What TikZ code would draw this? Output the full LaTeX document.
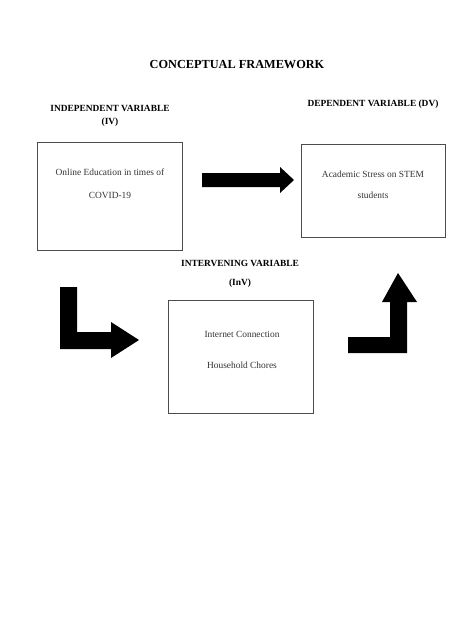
\documentclass[tikz,border=0pt]{standalone}
\usepackage{fontspec}
\setmainfont{Liberation Serif}
\begin{document}
\begin{tikzpicture}[x=1pt,y=-1pt,
  box/.style={draw=black!70,line width=0.8pt},
  hdr/.style={font=\bfseries\fontsize{9.4}{11}\selectfont,inner sep=0pt,anchor=center},
  txt/.style={font=\fontsize{9.4}{11}\selectfont,text=black!80,inner sep=0pt,anchor=center},
  blk/.style={fill=black,draw=none}]
\useasboundingbox[fill=white] (0,0) rectangle (474,632);
% title and headings
\node[hdr,font=\bfseries\fontsize{12.3}{14}\selectfont] (title) at (237,65) {CONCEPTUAL FRAMEWORK};
\node[hdr] (ivh) at (110,108) {INDEPENDENT VARIABLE};
\node[hdr] (ivh2) at (110,122) {(IV)};
\node[hdr] (dvh) at (373,104) {DEPENDENT VARIABLE (DV)};
\node[hdr] (invh) at (240,263) {INTERVENING VARIABLE};
\node[hdr] (invh2) at (240,283) {(InV)};
% boxes
\draw[box] (37,142) rectangle (182,250);
\node[txt] (iv1) at (110,172) {Online Education in times of};
\node[txt] (iv2) at (110,195) {COVID-19};
\draw[box] (301,144) rectangle (445,237);
\node[txt] (dv1) at (373,174) {Academic Stress on STEM};
\node[txt] (dv2) at (373,195) {students};
\draw[box] (168,300) rectangle (313,413);
\node[txt] (in1) at (242,334) {Internet Connection};
\node[txt] (in2) at (242,365) {Household Chores};
% block arrows
\fill[blk] (202,173) -- (280,173) -- (280,167) -- (294,180) -- (280,193) -- (280,187) -- (202,187) -- cycle;
\fill[blk] (60,287) -- (77,287) -- (77,332) -- (111,332) -- (111,322) -- (139,340) -- (111,358) -- (111,349) -- (60,349) -- cycle;
\fill[blk] (348,337) -- (390,337) -- (390,302) -- (382,302) -- (398,273) -- (417,302) -- (407,302) -- (407,353) -- (348,353) -- cycle;
\end{tikzpicture}
\end{document}
